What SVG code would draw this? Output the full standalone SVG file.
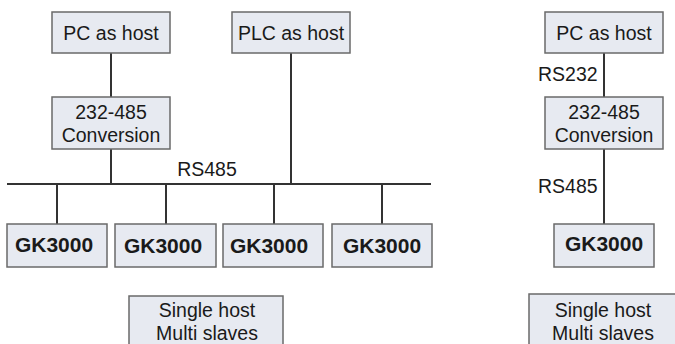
<svg xmlns="http://www.w3.org/2000/svg" width="675" height="344" viewBox="0 0 675 344">
<style>
.box{fill:#e7eaf1;stroke:#6a6a6a;stroke-width:1.5}
.t{font-family:"Liberation Sans",Arial,sans-serif;font-size:19.5px;fill:#1a1a1a;text-anchor:middle}
.b{font-family:"Liberation Sans",Arial,sans-serif;font-size:21px;font-weight:bold;fill:#1a1a1a;text-anchor:middle}
.l{font-family:"Liberation Sans",Arial,sans-serif;font-size:19.5px;fill:#1a1a1a}
.w{stroke:#333;stroke-width:2;fill:none}
</style>
<rect width="675" height="344" fill="#fff"/>
<g id="connectors">
<line class="w" x1="111" y1="53" x2="111" y2="97"/>
<line class="w" x1="111" y1="149" x2="111" y2="184"/>
<line class="w" x1="291" y1="53" x2="291" y2="184"/>
<line class="w" x1="7" y1="184" x2="431" y2="184"/>
<line class="w" x1="57" y1="184" x2="57" y2="224"/>
<line class="w" x1="166" y1="184" x2="166" y2="224"/>
<line class="w" x1="274" y1="184" x2="274" y2="224"/>
<line class="w" x1="382" y1="184" x2="382" y2="224"/>
<line class="w" x1="604" y1="53" x2="604" y2="97"/>
<line class="w" x1="604" y1="149" x2="604" y2="224"/>
<text class="t" x="207" y="176">RS485</text>
<text class="l" x="538" y="81">RS232</text>
<text class="l" x="538" y="193">RS485</text>
</g>
<g id="pc1"><rect class="box" x="52" y="12" width="118" height="41"/><text class="t" x="111" y="40">PC as host</text></g>
<g id="plc"><rect class="box" x="232" y="12" width="118" height="41"/><text class="t" x="291" y="40">PLC as host</text></g>
<g id="conv1"><rect class="box" x="52" y="97" width="118" height="52"/><text class="t" x="111" y="119">232-485</text><text class="t" x="111" y="142">Conversion</text></g>
<g id="gk1"><rect class="box" x="7" y="224" width="100" height="43"/><text class="b" x="54" y="252">GK3000</text></g>
<g id="gk2"><rect class="box" x="115" y="224" width="101" height="43"/><text class="b" x="163" y="253">GK3000</text></g>
<g id="gk3"><rect class="box" x="223" y="224" width="100" height="43"/><text class="b" x="269" y="253">GK3000</text></g>
<g id="gk4"><rect class="box" x="332" y="224" width="100" height="43"/><text class="b" x="382" y="253">GK3000</text></g>
<g id="cap1"><rect class="box" x="129" y="296" width="154" height="60"/><text class="t" x="207" y="317">Single host</text><text class="t" x="207" y="340">Multi slaves</text></g>
<g id="pc2"><rect class="box" x="545" y="12" width="118" height="41"/><text class="t" x="604" y="40">PC as host</text></g>
<g id="conv2"><rect class="box" x="545" y="97" width="118" height="52"/><text class="t" x="604" y="119">232-485</text><text class="t" x="604" y="142">Conversion</text></g>
<g id="gk5"><rect class="box" x="554" y="224" width="100" height="43"/><text class="b" x="604" y="251">GK3000</text></g>
<g id="cap2"><rect class="box" x="529" y="294" width="160" height="60"/><text class="t" x="603" y="317">Single host</text><text class="t" x="603" y="340">Multi slaves</text></g>
</svg>
